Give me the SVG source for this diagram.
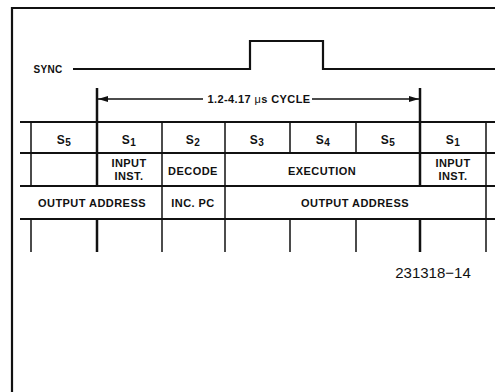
<svg xmlns="http://www.w3.org/2000/svg" width="495" height="392" viewBox="0 0 495 392">
<style>
.t{font-family:"Liberation Sans",Arial,sans-serif;font-weight:bold;font-size:11px;fill:#111;text-anchor:middle;letter-spacing:0.45px}
.s{font-size:12px}
.sub{font-size:10px}
.ln{stroke:#111;fill:none;stroke-width:1.5}
.thk{stroke:#111;fill:none;stroke-width:2.5}
.hl{stroke:#111;fill:none;stroke-width:2.2}
</style>
<defs>
<marker id="ah" viewBox="0 0 10 6" refX="10" refY="3" markerWidth="10" markerHeight="6" markerUnits="userSpaceOnUse" orient="auto">
<path d="M0,0 L10,3 L0,6 z" fill="#111"/>
</marker>
</defs>
<rect width="495" height="392" fill="#fff"/>
<g id="frame">
<path class="hl" d="M12,392 V8 H495"/>
</g>
<g id="sync">
<text class="t" x="48" y="73" style="font-size:10px;letter-spacing:0.3px">SYNC</text>
<path class="hl" d="M73,69 H250 V41 H323 V69 H495"/>
</g>
<g id="connectors">
<path class="thk" d="M97,88 V186 M97,219 V252"/>
<path class="thk" d="M420,88 V186 M420,219 V252"/>
<path class="ln" d="M203,99 H98" marker-end="url(#ah)"/>
<path class="ln" d="M312,99 H419" marker-end="url(#ah)"/>
<path class="hl" d="M20,122 H495 M20,153 H495 M20,186 H495 M20,219 H495"/>
<path class="ln" d="M31,122 V186 M31,219 V252"/>
<path class="ln" d="M162,122 V252"/>
<path class="ln" d="M225,122 V252"/>
<path class="ln" d="M290,122 V153 M290,219 V252"/>
<path class="ln" d="M356,122 V153 M356,219 V252"/>
<path class="ln" d="M486,122 V252"/>
</g>
<g id="cycle">
<text class="t" x="259" y="103" style="font-size:11px;letter-spacing:0.4px">1.2-4.17 <tspan style="font-weight:normal">μ</tspan>s CYCLE</text>
</g>
<g id="states">
<text class="t s" x="64" y="144">S<tspan class="sub" dy="2">5</tspan></text>
<text class="t s" x="129" y="144">S<tspan class="sub" dy="2">1</tspan></text>
<text class="t s" x="193" y="144">S<tspan class="sub" dy="2">2</tspan></text>
<text class="t s" x="257" y="144">S<tspan class="sub" dy="2">3</tspan></text>
<text class="t s" x="323" y="144">S<tspan class="sub" dy="2">4</tspan></text>
<text class="t s" x="388" y="144">S<tspan class="sub" dy="2">5</tspan></text>
<text class="t s" x="453" y="144">S<tspan class="sub" dy="2">1</tspan></text>
</g>
<g id="fetch">
<text class="t" x="129" y="167">INPUT</text>
<text class="t" x="129" y="180">INST.</text>
<text class="t" x="193" y="175">DECODE</text>
<text class="t" x="322" y="175">EXECUTION</text>
<text class="t" x="453" y="167">INPUT</text>
<text class="t" x="453" y="180">INST.</text>
</g>
<g id="address">
<text class="t" x="92" y="207">OUTPUT ADDRESS</text>
<text class="t" x="193" y="207">INC. PC</text>
<text class="t" x="355" y="207">OUTPUT ADDRESS</text>
</g>
<g id="label">
<text x="433" y="278" style="font-family:'Liberation Sans',Arial,sans-serif;font-size:15px;fill:#111;text-anchor:middle">231318−14</text>
</g>
</svg>
